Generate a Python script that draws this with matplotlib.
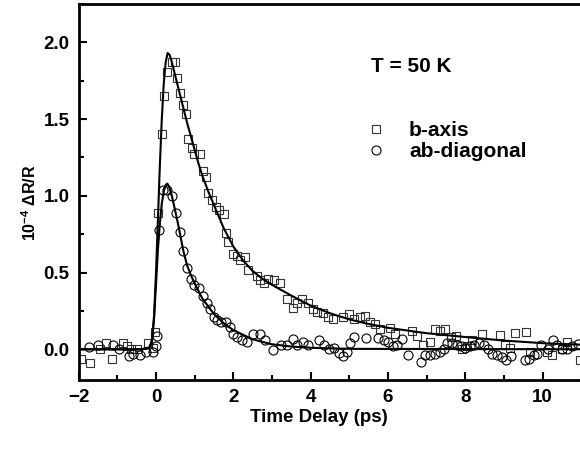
import matplotlib
matplotlib.use("Agg")
import matplotlib.pyplot as plt
from matplotlib.ticker import MultipleLocator

plt.rcParams['font.family'] = ['Liberation Sans', 'DejaVu Sans']
plt.rcParams['font.weight'] = 'bold'
plt.rcParams['mathtext.fontset'] = 'custom'
plt.rcParams['mathtext.rm'] = 'Liberation Sans:bold'
plt.rcParams['mathtext.default'] = 'rm'

# b-axis data (squares)
b_t = [-1.95, -1.71, -1.46, -1.29, -1.15, -0.86, -0.76, -0.65, -0.49, -0.22, -0.08, -0.03,
       0.06, 0.15, 0.21, 0.29, 0.41, 0.49, 0.55, 0.62, 0.69, 0.78, 0.84, 0.92, 0.98,
       1.15, 1.21, 1.29, 1.34, 1.44, 1.55, 1.64, 1.76, 1.81, 1.87, 1.98, 2.09, 2.17,
       2.30, 2.39, 2.61, 2.69, 2.79, 2.91, 3.04, 3.21, 3.38, 3.54, 3.66, 3.79, 3.92,
       4.05, 4.17, 4.33, 4.46, 4.59, 4.85, 5.00, 5.12, 5.27, 5.41, 5.54, 5.67, 5.80,
       6.05, 6.18, 6.62, 6.74, 6.92, 7.09, 7.22, 7.35, 7.48, 7.62, 7.76, 7.91, 8.04,
       8.17, 8.43, 8.90, 9.03, 9.16, 9.29, 9.57, 9.68, 10.11, 10.24, 10.50, 10.63, 10.97]
b_r = [-0.065, -0.09, 0.0, 0.04, -0.06, 0.04, 0.02, 0.0, 0.0, 0.04, 0.01, 0.11,
       0.89, 1.40, 1.65, 1.81, 1.87, 1.87, 1.77, 1.67, 1.59, 1.53, 1.37, 1.31, 1.27,
       1.27, 1.16, 1.12, 1.02, 0.97, 0.93, 0.905, 0.88, 0.755, 0.70, 0.62, 0.605, 0.58,
       0.60, 0.52, 0.48, 0.45, 0.43, 0.46, 0.45, 0.43, 0.33, 0.27, 0.30, 0.33, 0.30,
       0.265, 0.24, 0.235, 0.21, 0.195, 0.21, 0.23, 0.20, 0.21, 0.22, 0.18, 0.165, 0.13,
       0.14, 0.10, 0.12, 0.085, 0.025, 0.05, 0.13, 0.12, 0.13, 0.08, 0.085, 0.0, 0.02,
       0.06, 0.10, 0.09, 0.03, 0.01, 0.105, 0.115, -0.02, -0.02, -0.04, 0.005, 0.05, -0.07]

# ab-diagonal data (circles)
ab_t = [-1.73, -1.49, -1.10, -0.97, -0.70, -0.60, -0.41, -0.26, -0.09, 0.0, 0.02,
        0.09, 0.19, 0.29, 0.42, 0.52, 0.61, 0.70, 0.79, 0.90, 0.99, 1.10, 1.21, 1.31,
        1.40, 1.50, 1.59, 1.67, 1.80, 1.91, 2.00, 2.09, 2.22, 2.35, 2.50, 2.69, 2.82,
        3.02, 3.23, 3.38, 3.54, 3.66, 3.80, 3.92, 4.22, 4.35, 4.48, 4.61, 4.73, 4.83,
        4.93, 5.03, 5.13, 5.43, 5.74, 5.89, 6.01, 6.13, 6.24, 6.36, 6.53, 6.85, 6.96,
        7.09, 7.22, 7.35, 7.45, 7.53, 7.66, 7.79, 7.89, 8.00, 8.13, 8.23, 8.35, 8.48,
        8.58, 8.69, 8.82, 8.95, 9.06, 9.18, 9.55, 9.66, 9.77, 9.87, 9.95, 10.14, 10.26,
        10.38, 10.50, 10.63, 10.76, 10.93]
ab_r = [0.015, 0.03, 0.03, 0.0, -0.045, -0.03, -0.035, -0.02, -0.02, 0.02, 0.085,
        0.775, 1.04, 1.04, 1.0, 0.89, 0.765, 0.64, 0.53, 0.455, 0.42, 0.40, 0.345, 0.30,
        0.265, 0.21, 0.19, 0.18, 0.18, 0.145, 0.10, 0.08, 0.06, 0.05, 0.10, 0.10, 0.06,
        -0.005, 0.03, 0.03, 0.07, 0.03, 0.045, 0.03, 0.06, 0.03, 0.005, 0.01, -0.025, -0.045,
        -0.015, 0.04, 0.08, 0.075, 0.075, 0.06, 0.05, 0.02, 0.03, 0.065, -0.04, -0.08, -0.04,
        -0.035, -0.03, -0.015, 0.0, 0.04, 0.04, 0.03, 0.02, 0.01, 0.02, 0.03, 0.04, 0.025,
        0.0, -0.03, -0.035, -0.05, -0.07, -0.045, -0.07, -0.06, -0.04, -0.03, 0.03, 0.005, 0.06,
        0.03, 0.0, 0.005, 0.02, 0.035]

# fit curves
fit_b_t = [-2.0, -0.4, -0.2, -0.15, -0.1, -0.05, 0.0, 0.05, 0.1, 0.15, 0.2, 0.25, 0.3,
           0.35, 0.4, 0.5, 0.6, 0.7, 0.8, 0.9, 1.0, 1.1, 1.2, 1.35, 1.5, 1.75, 2.0, 2.25,
           2.5, 2.75, 3.0, 3.5, 4.0, 4.5, 5.0, 5.5, 6.0, 7.0, 8.0, 9.0, 10.0, 11.5]
fit_b_r = [0.0, 0.0, 0.01, 0.02, 0.07, 0.22, 0.5, 0.85, 1.2, 1.5, 1.73, 1.87, 1.93,
           1.92, 1.88, 1.78, 1.68, 1.58, 1.48, 1.39, 1.30, 1.21, 1.13, 1.03, 0.94, 0.79, 0.67, 0.58,
           0.51, 0.46, 0.42, 0.35, 0.285, 0.235, 0.195, 0.165, 0.14, 0.105, 0.08, 0.057, 0.04, 0.025]
fit_ab_t = [-2.0, -0.4, -0.2, -0.15, -0.1, -0.05, 0.0, 0.05, 0.1, 0.15, 0.2, 0.25, 0.29,
            0.33, 0.4, 0.5, 0.6, 0.7, 0.8, 0.9, 1.0, 1.1, 1.2, 1.35, 1.5, 1.75, 2.0, 2.5,
            3.0, 3.5, 4.0, 5.0, 11.5]
fit_ab_r = [0.0, 0.0, 0.005, 0.015, 0.06, 0.2, 0.42, 0.65, 0.82, 0.95, 1.03, 1.07, 1.08,
            1.065, 1.01, 0.9, 0.78, 0.65, 0.55, 0.485, 0.43, 0.38, 0.33, 0.28, 0.23, 0.17, 0.125, 0.065,
            0.033, 0.018, 0.01, 0.003, 0.0]

fig = plt.figure(figsize=(5.8, 4.51), dpi=100)
ax = fig.add_axes([78.7 / 580, 71 / 451, 521.8 / 580, 376 / 451])

ax.plot(b_t, b_r, ls='none', marker='s', ms=5.8, mfc='none', mec='#333333', mew=0.8, label='b-axis')
ax.plot(ab_t, ab_r, ls='none', marker='o', ms=6.5, mfc='none', mec='black', mew=0.8, label='ab-diagonal')
ax.plot(fit_b_t, fit_b_r, color='black', lw=1.5)
ax.plot(fit_ab_t, fit_ab_r, color='black', lw=1.5)

ax.set_xlim(-2, 11.5)
ax.set_ylim(-0.2, 2.25)
ax.xaxis.set_major_locator(MultipleLocator(2))
ax.xaxis.set_minor_locator(MultipleLocator(1))
ax.yaxis.set_major_locator(MultipleLocator(0.5))
ax.yaxis.set_minor_locator(MultipleLocator(0.25))
ax.tick_params(which='both', direction='in', width=1.5, labelsize=13.5, pad=6.5)
ax.tick_params(which='major', length=6)
ax.tick_params(which='minor', length=3.5)
for s in ax.spines.values():
    s.set_linewidth(2)

ax.set_xlabel('Time Delay (ps)', fontsize=13.5, fontweight='bold')
ax.xaxis.set_label_coords(0.46, -0.077)
ax.set_ylabel(r'10$^{-4}$ $\Delta$R/R', fontsize=11.5, fontweight='bold')
ax.yaxis.set_label_coords(-0.077, 0.47)

ax.text(5.56, 1.84, 'T = 50 K', fontsize=15, fontweight='bold', va='center')
ax.legend(loc='center left', bbox_to_anchor=(0.513, 0.636), frameon=False,
          handlelength=1.0, handletextpad=1.1, labelspacing=0.1,
          prop={'size': 15, 'weight': 'bold'})

fig.savefig('out.png', dpi=100)
